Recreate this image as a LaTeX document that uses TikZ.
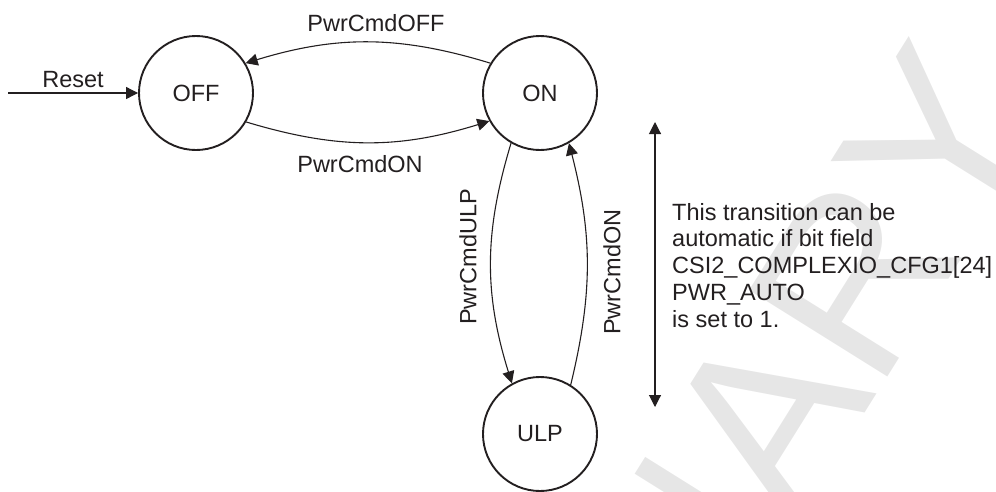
\documentclass[tikz,border=0pt]{standalone}
\usepackage{fontspec}
\setmainfont{Liberation Sans}
\usetikzlibrary{arrows.meta}
\definecolor{PhyLine}{HTML}{231F20}
\definecolor{PhyMark}{HTML}{E6E6E6}

\begin{document}
\begin{tikzpicture}[x=1pt,y=-1pt,
    state/.style={circle,draw=PhyLine,line width=1.9pt,minimum size=114pt,inner sep=0pt,text=PhyLine,font=\fontsize{23.5}{26.7}\selectfont},
    lbl/.style={text=PhyLine,inner sep=0pt,font=\fontsize{23.5}{26.7}\selectfont},
    trans/.style={draw=PhyLine,line width=1.1pt,-{Triangle[length=12pt,width=12pt]}},
    bothway/.style={draw=PhyLine,line width=1.1pt,{Triangle[length=12pt,width=12pt]}-{Triangle[length=12pt,width=12pt]}}]
    \useasboundingbox (0,0) rectangle (996,491);
    \begin{scope}
      \clip (0,0) rectangle (996,491);
      \node[rotate=58,anchor=base east,inner sep=0pt,text=PhyMark,font=\fontsize{237}{237}\selectfont] (mark) at (1050,118) {PRELIMINARY};
    \end{scope}
    \node[state] (off) at (196,93) {OFF};
    \node[state] (on) at (540,93) {ON};
    \node[state] (ulp) at (540,434) {ULP};
    \coordinate (start) at (8,93);
    \draw[trans] (start) -- (off);
    \node[lbl] (reset) at (73,80) {Reset};
    \draw[trans] (on.149) to[bend right=17] (off.31);
    \node[lbl] (offlbl) at (376,23) {PwrCmdOFF};
    \draw[trans] (off.-30) to[bend right=17] (on.209);
    \node[lbl] (onlbl) at (360,164) {PwrCmdON};
    \draw[trans] (on.240) to[bend right=17] (ulp.119);
    \node[lbl,rotate=90] (ulplbl) at (468,257) {PwrCmdULP};
    \draw[trans] (ulp.58) to[bend right=14] (on.-60);
    \node[lbl,rotate=90] (backlbl) at (612,272) {PwrCmdON};
    \coordinate (autotop) at (655,122);
    \coordinate (autobot) at (655,407);
    \draw[bothway] (autotop) -- (autobot);
    \node[lbl,anchor=north west,align=left] (note) at (672,203) {This transition can be\\automatic if bit field\\CSI2\_COMPLEXIO\_CFG1[24]\\PWR\_AUTO\\is set to 1.};
  \end{tikzpicture}
\end{document}
